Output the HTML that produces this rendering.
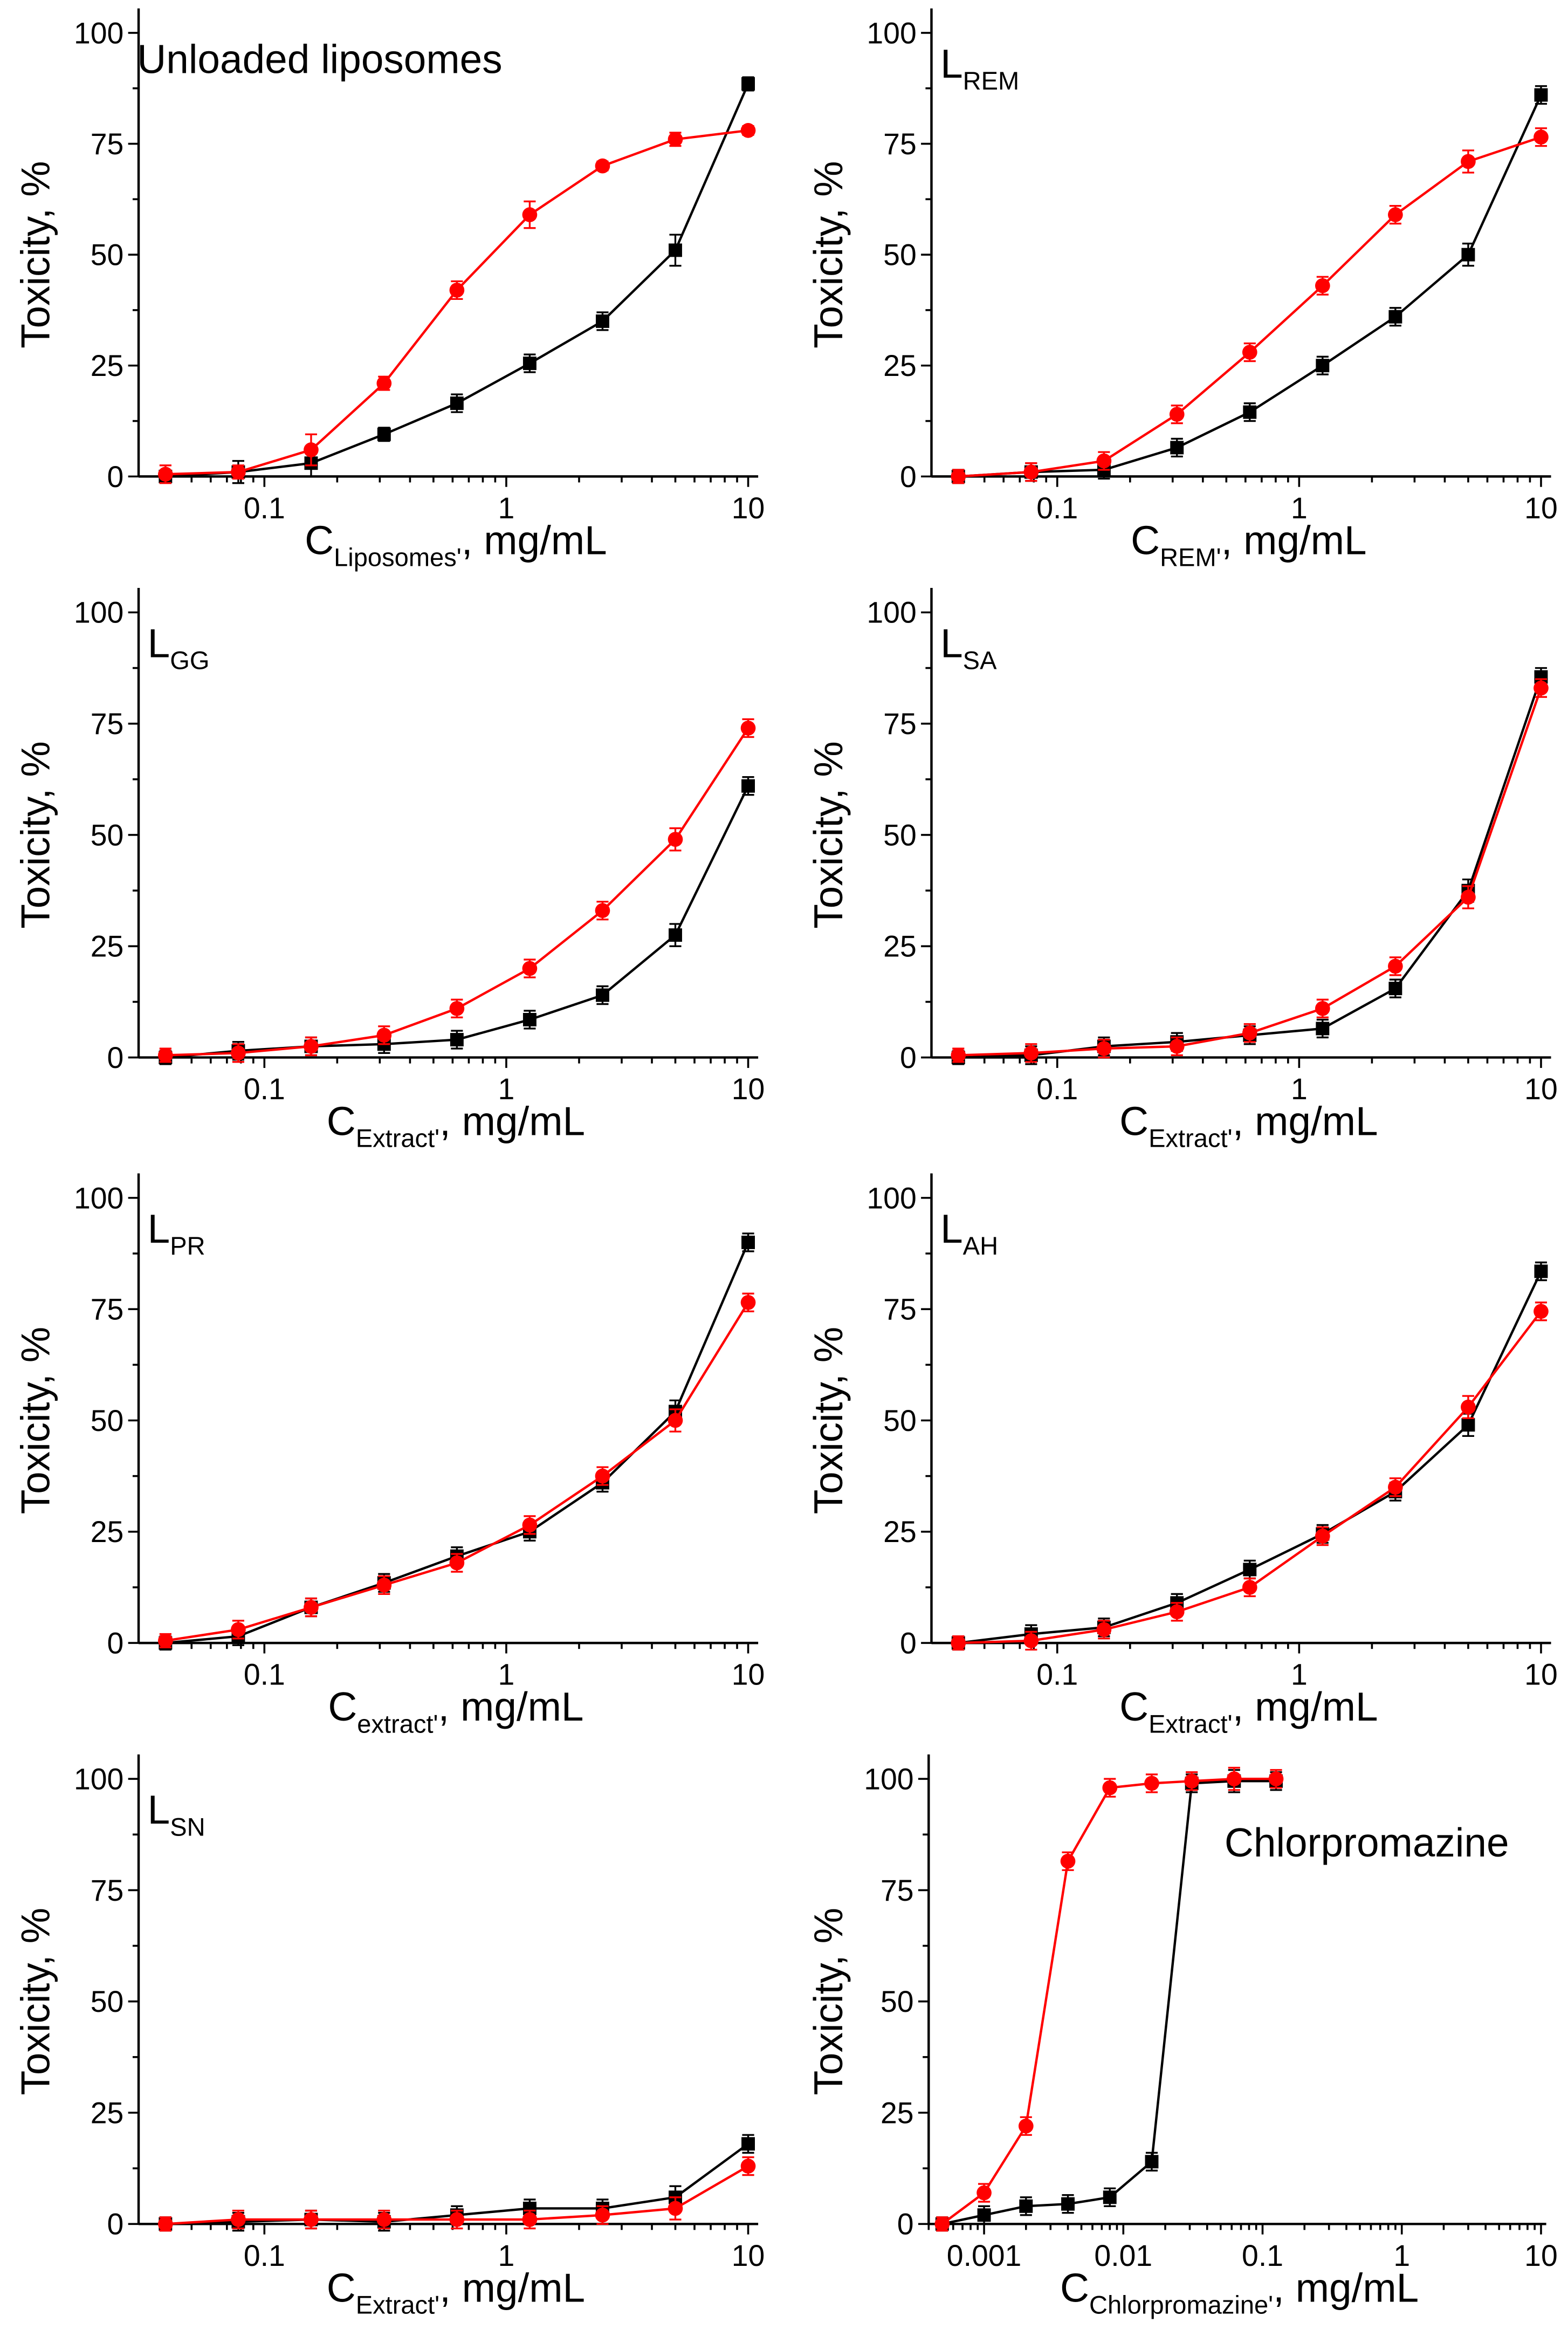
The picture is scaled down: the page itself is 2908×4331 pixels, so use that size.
<!DOCTYPE html>
<html><head><meta charset="utf-8"><style>
html,body{margin:0;padding:0;background:#fff}
svg{display:block}
text{font-family:"Liberation Sans",sans-serif;fill:#000}
</style></head>
<body>
<svg id="fig" xmlns="http://www.w3.org/2000/svg" width="2908" height="4331" viewBox="0 0 1050 1564"></svg>
<script>
const xStd = [0.039, 0.078, 0.156, 0.3125, 0.625, 1.25, 2.5, 5, 10];
const xChl = [0.0005, 0.001, 0.002, 0.004, 0.008, 0.016, 0.031, 0.0625, 0.125];

const blackLip = [0, 1, 3, 9.5, 16.5, 25.5, 35, 51, 88.5];
const redLip = [0.5, 1, 6, 21, 42, 59, 70, 76, 78];
const blackLipErr = [1, 2.5, 3, 1.5, 2, 2, 2, 3.5, 1.5];
const redLipErr = [2, 1.5, 3.5, 1.5, 2, 3, 1, 1.5, 1];

const blackREM = [0, 1, 1.5, 6.5, 14.5, 25, 36, 50, 86];
const redREM = [0, 1, 3.5, 14, 28, 43, 59, 71, 76.5];
const blackGG = [0, 1.5, 2.5, 3, 4, 8.5, 14, 27.5, 61];
const redGG = [0.5, 1, 2.5, 5, 11, 20, 33, 49, 74];
const blackSA = [0, 0.5, 2.5, 3.5, 5, 6.5, 15.5, 37.5, 85.5];
const redSA = [0.5, 1, 2, 2.5, 5.5, 11, 20.5, 36, 83];
const blackPR = [0, 1.5, 8, 13.5, 19.5, 25, 36, 52, 90];
const redPR = [0.5, 3, 8, 13, 18, 26.5, 37.5, 50, 76.5];
const blackAH = [0, 2, 3.5, 9, 16.5, 24.5, 34, 49, 83.5];
const redAH = [0, 0.5, 3, 7, 12.5, 24, 35, 53, 74.5];
const blackSN = [0, 0.5, 1, 0.5, 2, 3.5, 3.5, 6, 18];
const redSN = [0, 1, 1, 1, 1, 1, 2, 3.5, 13];
const blackChl = [0, 2, 4, 4.5, 6, 14, 99, 99.5, 99.5];
const redChl = [0, 7, 22, 81.5, 98, 99, 99.5, 100, 100];
const errStd = [1.5, 2, 2, 2, 2, 2, 2, 2.5, 2];

const yTicks = [0, 25, 50, 75, 100];
const xTicksStd = [0.1, 1, 10];
const xTickLabelsStd = ["0.1", "1", "10"];
const xTicksChl = [0.001, 0.01, 0.1, 1, 10];
const xTickLabelsChl = ["0.001", "0.01", "0.1", "1", "10"];

const NS = "http://www.w3.org/2000/svg";
const svg = document.getElementById("fig");
function el(tag, attrs, parent){
  const e = document.createElementNS(NS, tag);
  for (const k in attrs) e.setAttribute(k, attrs[k]);
  (parent||svg).appendChild(e);
  return e;
}

const panels = [
  {col:0,row:0,label:"Unloaded liposomes",sub:"",xsub:"Liposomes",x:xStd,b:blackLip,r:redLip,be:blackLipErr,re:redLipErr},
  {col:1,row:0,label:"L",sub:"REM",xsub:"REM",x:xStd,b:blackREM,r:redREM},
  {col:0,row:1,label:"L",sub:"GG",xsub:"Extract",x:xStd,b:blackGG,r:redGG},
  {col:1,row:1,label:"L",sub:"SA",xsub:"Extract",x:xStd,b:blackSA,r:redSA},
  {col:0,row:2,label:"L",sub:"PR",xsub:"extract",x:xStd,b:blackPR,r:redPR},
  {col:1,row:2,label:"L",sub:"AH",xsub:"Extract",x:xStd,b:blackAH,r:redAH},
  {col:0,row:3,label:"L",sub:"SN",xsub:"Extract",x:xStd,b:blackSN,r:redSN},
  {col:1,row:3,label:"Chlorpromazine",sub:"",xsub:"Chlorpromazine",x:xChl,b:blackChl,r:redChl,chl:true}
];
const rowY = [[22,319],[410,708],[802,1100],[1191,1489]];

panels.forEach((p,i)=>{
  const g = el("g",{});
  
  
  const y100 = rowY[p.row][0], y0 = rowY[p.row][1];
  const Y = v => y0 + (y100-y0)*v/100;
  let X, xmin, xmax, ticks, tlabels;
  if (p.chl){
    const a = 659, dec = 93.25;
    X = v => a + dec*Math.log10(v/0.001);
    xmin = 0.0004; xmax = 10.9; ticks = xTicksChl; tlabels = xTickLabelsChl;
  } else {
    const a = p.col===0 ? 177 : 708, dec = 162;
    X = v => a + dec*Math.log10(v/0.1);
    xmin = 0.0302; xmax = 11; ticks = xTicksStd; tlabels = xTickLabelsStd;
  }
  const ax = X(xmin), axR = X(xmax);
  const lw = 1.6;
  const ya = el("line",{x1:ax,y1:Y(105.5),x2:ax,y2:y0,stroke:"#000","stroke-width":lw},g);
  
  
  const xa = el("line",{x1:ax,y1:y0,x2:axR,y2:y0,stroke:"#000","stroke-width":lw},g);
  
  
  for (let v=0; v<=100; v+=12.5){
    const major = v%25===0;
    el("line",{x1:ax-(major?7:4),y1:Y(v),x2:ax,y2:Y(v),stroke:"#000","stroke-width":1.3},g);
  }
  yTicks.forEach(v=>{
    const t = el("text",{x:ax-10,y:Y(v)+7,"text-anchor":"end","font-size":20},g);
    t.textContent = v;
    
    
  });
  const d0 = Math.floor(Math.log10(xmin)), d1 = Math.ceil(Math.log10(xmax));
  for (let d=d0; d<=d1; d++){
    for (let m=1; m<10; m++){
      const v = m*Math.pow(10,d);
      if (v<xmin || v>xmax) continue;
      el("line",{x1:X(v),y1:y0,x2:X(v),y2:y0+(m===1?7:4),stroke:"#000","stroke-width":1.3},g);
    }
  }
  ticks.forEach((v,k)=>{
    const t = el("text",{x:X(v),y:y0+28,"text-anchor":"middle","font-size":20},g);
    t.textContent = tlabels[k];
    
    
  });
  const cx = p.col===0 ? 33 : 564;
  const yt = el("text",{x:0,y:0,"text-anchor":"middle","font-size":27,transform:`translate(${cx},${(y0+y100)/2}) rotate(-90)`},g);
  yt.textContent = "Toxicity, %";
  
  
  const xcenter = p.chl ? 830 : (ax+axR)/2 + 5;
  const xt = el("text",{x:xcenter,y:y0+52,"text-anchor":"middle","font-size":27},g);
  
  
  const s1 = el("tspan",{},xt); s1.textContent = "C";
  const s2 = el("tspan",{"font-size":17,dy:8},xt); s2.textContent = p.xsub+"'";
  const s3 = el("tspan",{dy:-8},xt); s3.textContent = ", mg/mL";
  let lab;
  if (p.sub){
    lab = el("text",{x:ax+6,y:y100+30,"font-size":27},g);
    const a1 = el("tspan",{},lab); a1.textContent = p.label;
    const a2 = el("tspan",{"font-size":17,dy:8},lab); a2.textContent = p.sub;
  } else if (p.chl){
    lab = el("text",{x:820,y:y100+52,"font-size":27},g);
    lab.textContent = p.label;
  } else {
    lab = el("text",{x:ax-1,y:y100+27,"font-size":27},g);
    lab.textContent = p.label;
  }
  
  
  [["black",p.b,p.be||errStd,"#000","square"],["red",p.r,p.re||errStd,"#f00","circle"]].forEach(([nm,vals,errs,col,shape])=>{
    const sg = el("g",{},g);
    
    
    const pts = vals.map((v,k)=>X(p.x[k])+","+Y(v)).join(" ");
    const pl = el("polyline",{points:pts,fill:"none",stroke:col,"stroke-width":1.6},sg);
    
    
    vals.forEach((v,k)=>{
      const px = X(p.x[k]), py = Y(v), e = errs[k];
      const eb = el("path",{d:`M${px},${Y(v+e)}V${Y(v-e)}M${px-4},${Y(v+e)}H${px+4}M${px-4},${Y(v-e)}H${px+4}`,stroke:col,"stroke-width":1.2,fill:"none"},sg);
      
      
      let m;
      if (shape==="square") m = el("rect",{x:px-4.5,y:py-4.5,width:9,height:9,fill:col},sg);
      else m = el("circle",{cx:px,cy:py,r:5,fill:col},sg);
      
      
    });
  });
});
</script>
</body></html>
